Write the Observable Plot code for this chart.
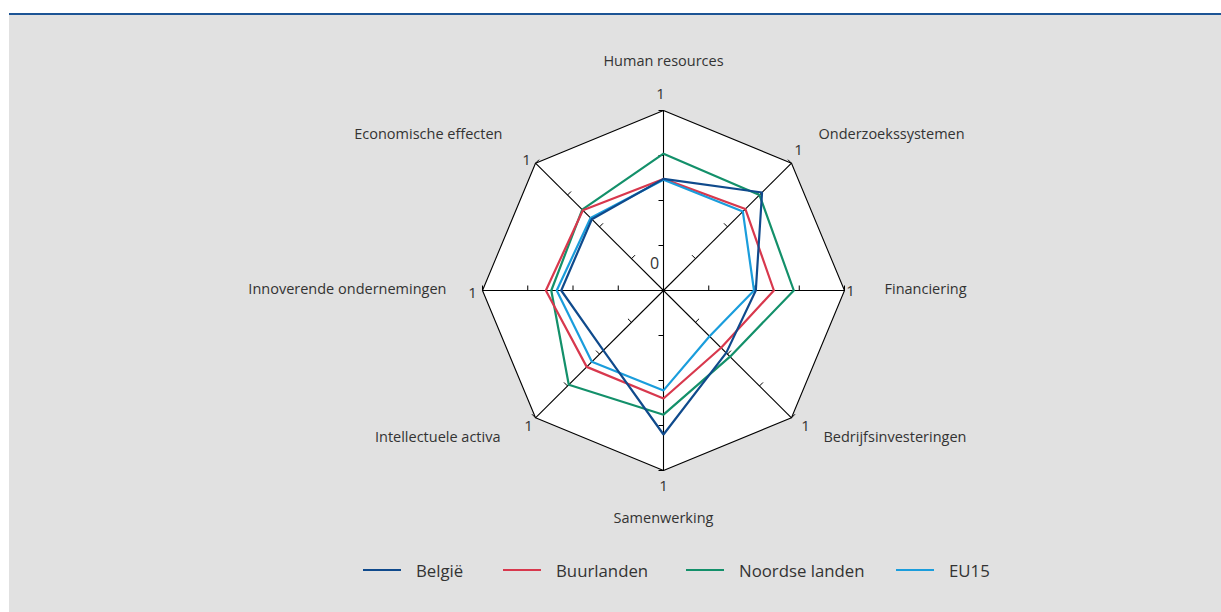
<!DOCTYPE html>
<html>
<head>
<meta charset="utf-8">
<script src="https://cdn.jsdelivr.net/npm/d3@7"></script>
<script src="https://cdn.jsdelivr.net/npm/@observablehq/plot@0.6"></script>
<style>
  html, body { margin: 0; padding: 0; background: #ffffff; }
  #wrap {
    position: absolute; left: 9px; top: 13px; width: 1212px; height: 599px;
    border-top: 2px solid #1d5495; background: #e1e1e1; box-sizing: border-box;
    font-family: "Open Sans", sans-serif; color: #333;
  }
  #chart svg { display: block; }
  #legend { position: absolute; left: 0; top: 543px; width: 100%; height: 24px; }
  .item { position: absolute; top: 0; height: 24px; display: flex; align-items: center; font-size: 16.8px; white-space: nowrap; }
  .sw { width: 38px; height: 0; border-top: 2.6px solid; margin-right: 15px; }
</style>
</head>
<body>
<div id="wrap"><div id="chart"></div><div id="legend"></div></div>
<script>
const categories = ["Human resources", "Onderzoekssystemen", "Financiering", "Bedrijfsinvesteringen",
                    "Samenwerking", "Intellectuele activa", "Innoverende ondernemingen", "Economische effecten"];
const seriesNames = ["België", "Buurlanden", "Noordse landen", "EU15"];
const belgie      = [0.62, 0.77, 0.51, 0.49, 0.80, 0.47, 0.565, 0.56];
const buurlanden  = [0.62, 0.64, 0.61, 0.45, 0.60, 0.60, 0.65, 0.63];
const noordse     = [0.76, 0.75, 0.72, 0.52, 0.69, 0.74, 0.62, 0.635];
const eu15        = [0.615, 0.62, 0.50, 0.36, 0.555, 0.56, 0.59, 0.57];
const tickValues  = [0.25, 0.5, 0.75, 1];
const axisMin = "0";
const axisMax = "1";

// ---- styling / layout (not data) ----
const colors = ["#0f4a8c", "#d8384d", "#13906a", "#1a9ddc"];
const drawOrder = [2, 1, 3, 0];
const catLayout = [
  {dx: 0,   dy: -49, anchor: "middle"},
  {dx: 27,  dy: -29, anchor: "start"},
  {dx: 40,  dy: -1,  anchor: "start"},
  {dx: 32,  dy: 20,  anchor: "start"},
  {dx: 0,   dy: 48,  anchor: "middle"},
  {dx: -35, dy: 20,  anchor: "end"},
  {dx: -36, dy: -1,  anchor: "end"},
  {dx: -33, dy: -29, anchor: "end"}
];
const oneLayout = [
  {dx: -3, dy: -16}, {dx: 7, dy: -13}, {dx: 6, dy: 1}, {dx: 14, dy: 8},
  {dx: 0, dy: 16}, {dx: -7, dy: 8}, {dx: -10, dy: 3}, {dx: -9, dy: -3}
];
// tick direction (pixel unit vectors, screen y down) per axis
const tickDir = [[-1,0],[-0.707,-0.707],[0,-1],[0.707,-0.707],[-1,0],[-0.707,-0.707],[0,-1],[0.707,-0.707]];
const tickLen = 5;
const legendLeft = [354, 494, 677, 887];

const W = 1212, H = 530;
const cx = 654, cy = 275, rx = 181, ry = 180;

const n = categories.length;
const ang = categories.map((c, i) => i * 2 * Math.PI / n);
const px = (r, i) => r * Math.sin(ang[i]);
const py = (r, i) => r * Math.cos(ang[i]);

const allSeries = [belgie, buurlanden, noordse, eu15];
const lineData = [];
drawOrder.forEach(s => {
  allSeries[s].forEach((v, i) => lineData.push({series: seriesNames[s], i, x: px(v, i), y: py(v, i)}));
});

const octagon = categories.map((c, i) => ({x: px(1, i), y: py(1, i)}));
const spokes = categories.map((c, i) => ({x1: 0, y1: 0, x2: px(1, i), y2: py(1, i)}));
const ticks = [];
categories.forEach((c, i) => tickValues.forEach(t => {
  const [ux, uy] = tickDir[i];
  ticks.push({x1: px(t, i), y1: py(t, i), x2: px(t, i) + ux * tickLen / rx, y2: py(t, i) - uy * tickLen / ry});
}));
const catLabels = categories.map((c, i) => ({text: c, x: px(1, i), y: py(1, i), ...catLayout[i]}));
const oneLabels = categories.map((c, i) => ({text: axisMax, x: px(1, i), y: py(1, i), ...oneLayout[i]}));

const fontFam = "'Open Sans', sans-serif";
const chart = Plot.plot({
  width: W, height: H,
  style: {background: "transparent", fontFamily: fontFam, color: "#333"},
  x: {domain: [-1, 1], range: [cx - rx, cx + rx], axis: null},
  y: {domain: [-1, 1], range: [cy + ry, cy - ry], axis: null},
  color: {domain: seriesNames, range: colors},
  marks: [
    Plot.line(octagon, {x: "x", y: "y", curve: "linear-closed", fill: "white", stroke: "black", strokeWidth: 1.1}),
    Plot.link(spokes, {x1: "x1", y1: "y1", x2: "x2", y2: "y2", stroke: "black", strokeWidth: 1.1}),
    Plot.link(ticks, {x1: "x1", y1: "y1", x2: "x2", y2: "y2", stroke: "black", strokeWidth: 1}),
    Plot.line(lineData, {x: "x", y: "y", z: "series", stroke: "series", curve: "linear-closed", strokeWidth: 2.2, strokeLinejoin: "miter"}),
    ...catLabels.map(d => Plot.text([d], {x: "x", y: "y", text: "text", dx: d.dx, dy: d.dy, textAnchor: d.anchor, lineAnchor: "middle", fontSize: 14.5, fill: "#333"})),
    ...oneLabels.map(d => Plot.text([d], {x: "x", y: "y", text: "text", dx: d.dx, dy: d.dy, lineAnchor: "middle", fontSize: 15, fill: "#333"})),
    Plot.text([{x: 0, y: 0}], {x: "x", y: "y", text: () => axisMin, dx: -9, dy: -27, lineAnchor: "middle", fontSize: 16, fill: "#333"})
  ]
});
document.getElementById("chart").appendChild(chart);

const legend = document.getElementById("legend");
seriesNames.forEach((s, k) => {
  const it = document.createElement("div");
  it.className = "item";
  it.style.left = legendLeft[k] + "px";
  const sw = document.createElement("span");
  sw.className = "sw";
  sw.style.borderColor = colors[k];
  const tx = document.createElement("span");
  tx.textContent = s;
  it.appendChild(sw); it.appendChild(tx);
  legend.appendChild(it);
});
</script>
</body>
</html>
